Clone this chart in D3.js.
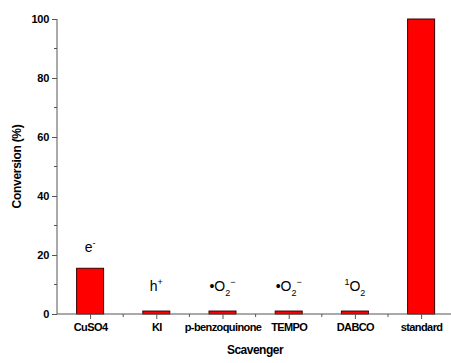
<!DOCTYPE html>
<html lang="en">
	<head>
		<meta charset="utf-8">
		<title>Scavenger</title>
		<script type="text/javascript" src="https://cdn.jsdelivr.net/npm/d3@7"></script>
		<style>
			body { margin: 0; background: #fff; }
			text { font-family: Arial, "Liberation Sans", sans-serif; }
		</style>
	</head>
	<body>
		<div id="chart"></div>
		<script type="text/javascript">

var scavengers = ["CuSO4", "KI", "p-benzoquinone", "TEMPO", "DABCO", "standard"];
var conversion = [15.5, 1, 1, 1, 1, 100];
// species label above each bar: [text, "sup" | "sub" | ""]
var species = [
	[["e", ""], ["-", "sup"]],
	[["h", ""], ["+", "sup"]],
	[["\u2022O", ""], ["2", "sub"], ["\u2212", "sup"]],
	[["\u2022O", ""], ["2", "sub"], ["\u2212", "sup"]],
	[["1", "sup"], ["O", ""], ["2", "sub"]],
	[]
];
var yTicks = [0, 20, 40, 60, 80, 100];

var w = 451, h = 363;
var margin = {left: 57, top: 19, bottom: 49};

var svg = d3.select("#chart")
	.append("svg")
	.attr("width", w)
	.attr("height", h);

var x = d3.scalePoint()
	.domain(scavengers)
	.range([margin.left, margin.left + 6 * 66.2])
	.padding(0.5);

var y = d3.scaleLinear()
	.domain([0, 100])
	.range([h - margin.bottom, margin.top]);

var step = x.step();
var barW = 27;

//bars
svg.selectAll("rect.bar")
	.data(conversion)
	.enter()
	.append("rect")
	.attr("class", "bar")
	.attr("x", function(d, i) { return x(scavengers[i]) - barW / 2; })
	.attr("y", function(d) { return y(d); })
	.attr("width", barW)
	.attr("height", function(d) { return y(0) - y(d); })
	.style("fill", "#ff0000")
	.style("stroke", "#3a0000")
	.style("stroke-width", 1);

//x axis
var xAxis = svg.append("g")
	.attr("transform", "translate(0," + y(0) + ")")
	.call(d3.axisBottom(x).tickSize(5).tickPadding(4));
xAxis.select(".domain").attr("d", "M" + margin.left + ",0H" + w).style("stroke", "#555");
xAxis.selectAll(".tick line").style("stroke", "#555");
xAxis.selectAll(".tick text")
	.style("font-size", "11px")
	.style("font-weight", "bold")
	.style("letter-spacing", "-0.6px")
	.style("fill", "#000");

// minor x ticks between categories
svg.append("g")
	.selectAll("line")
	.data(scavengers)
	.enter()
	.append("line")
	.attr("x1", function(d) { return x(d) + step / 2; })
	.attr("x2", function(d) { return x(d) + step / 2; })
	.attr("y1", y(0))
	.attr("y2", y(0) + 3)
	.style("stroke", "#555");

//y axis
var yAxis = svg.append("g")
	.attr("transform", "translate(" + margin.left + ",0)")
	.call(d3.axisLeft(y).tickValues(yTicks).tickSize(5).tickPadding(3));
yAxis.select(".domain").attr("d", "M0," + y(100) + "V" + y(0)).style("stroke", "#555");
yAxis.selectAll(".tick line").style("stroke", "#555");
yAxis.selectAll(".tick text")
	.style("font-size", "11px")
	.style("font-weight", "bold")
	.style("letter-spacing", "-0.3px")
	.style("fill", "#000");

// minor y ticks
svg.append("g")
	.selectAll("line")
	.data([10, 30, 50, 70, 90])
	.enter()
	.append("line")
	.attr("x1", margin.left)
	.attr("x2", margin.left - 3)
	.attr("y1", function(d) { return y(d); })
	.attr("y2", function(d) { return y(d); })
	.style("stroke", "#555");

//species labels
var lab = svg.selectAll("text.species")
	.data(species)
	.enter()
	.append("text")
	.attr("class", "species")
	.attr("x", function(d, i) { return x(scavengers[i]); })
	.attr("y", function(d, i) { return y(conversion[i]) - (i == 0 ? 16 : 20); })
	.attr("text-anchor", "middle")
	.style("font-size", "14px")
	.style("fill", "#000");

lab.each(function(parts) {
	var t = d3.select(this);
	var shift = 0;
	parts.forEach(function(p) {
		var target = p[1] == "sup" ? -6 : (p[1] == "sub" ? 5 : 0);
		var sp = t.append("tspan").text(p[0]).attr("dy", target - shift);
		if (p[1] != "") sp.style("font-size", "9px");
		shift = target;
	});
});

//axis titles
svg.append("text")
	.attr("transform", "translate(21," + (y(50)) + ") rotate(-90)")
	.attr("text-anchor", "middle")
	.style("font-size", "12px")
	.style("font-weight", "bold")
	.style("letter-spacing", "-0.3px")
	.text("Conversion (%)");

svg.append("text")
	.attr("x", (margin.left + w) / 2 + 1)
	.attr("y", 354)
	.attr("text-anchor", "middle")
	.style("font-size", "12px")
	.style("font-weight", "bold")
	.style("letter-spacing", "-0.5px")
	.text("Scavenger");

		</script>
	</body>
</html>
